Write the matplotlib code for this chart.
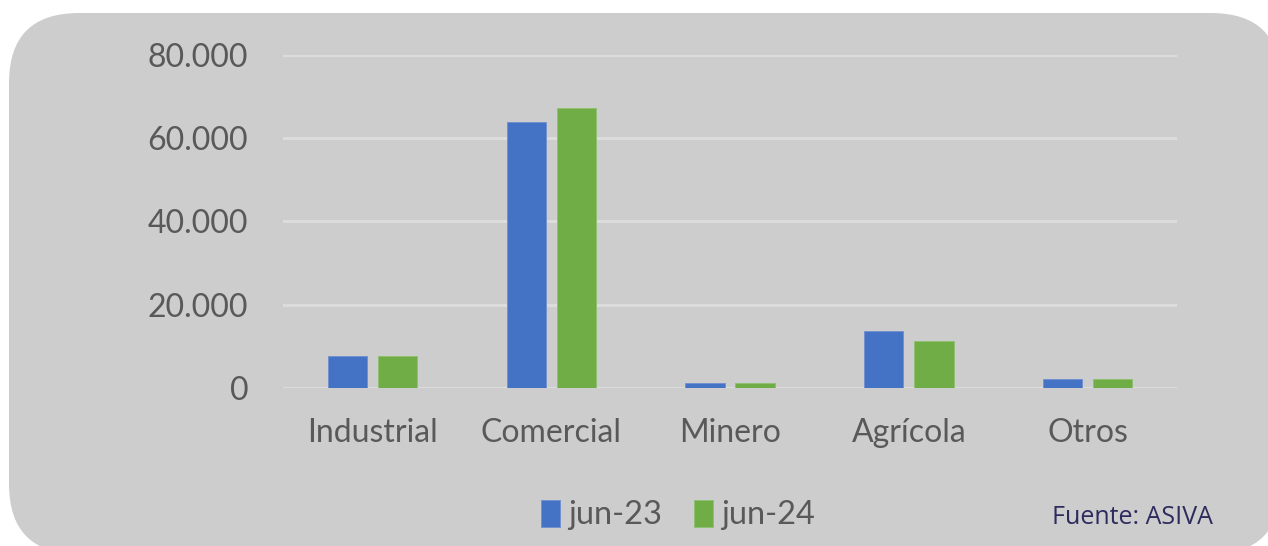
import matplotlib
matplotlib.use("Agg")
import matplotlib.pyplot as plt
from matplotlib.patches import FancyBboxPatch
from matplotlib.ticker import FuncFormatter
import numpy as np

categories = ["Industrial", "Comercial", "Minero", "Agrícola", "Otros"]
jun23 = [7700, 63900, 1200, 13700, 2100]
jun24 = [7600, 67200, 1100, 11300, 2000]
series_names = ["jun-23", "jun-24"]
yticks = [0, 20000, 40000, 60000, 80000]

W, H, DPI = 1268, 546, 100
fig = plt.figure(figsize=(W / DPI, H / DPI), dpi=DPI)
fig.patch.set_facecolor("white")

# rounded gray panel (in inches)
panel = FancyBboxPatch((0.09, -0.08), 12.72, 5.41,
                       boxstyle="round,pad=0,rounding_size=0.70",
                       transform=fig.dpi_scale_trans, facecolor="#CDCDCD",
                       edgecolor="none", zorder=-10)
fig.patches.append(panel)

ax = fig.add_axes([283 / W, 1 - 387.7 / H, 894 / W, (387.7 - 55) / H])
ax.set_facecolor("none")
ax.set_zorder(1)

x = np.arange(len(categories))
bw = 0.22
off = 0.14
blue, green = "#4472C4", "#70AD47"
b1 = ax.bar(x - off, jun23, bw, color=blue, edgecolor="#6F8FD0", linewidth=0.6,
            label=series_names[0], zorder=3)
b2 = ax.bar(x + off, jun24, bw, color=green, edgecolor="#8DC06C", linewidth=0.6,
            label=series_names[1], zorder=3)

ax.set_xlim(-0.5, len(categories) - 0.5)
ax.set_ylim(0, 80000)
ax.set_yticks(yticks)
ax.yaxis.set_major_formatter(FuncFormatter(lambda v, p: "0" if v == 0 else f"{int(v):,}".replace(",", ".")))
ax.grid(axis="y", color="#DCDCDC", linewidth=2.2, zorder=0)
ax.set_axisbelow(True)
for s in ax.spines.values():
    s.set_visible(False)
ax.tick_params(axis="both", length=0, labelsize=23, colors="#595959")
ax.tick_params(axis="y", pad=25)
ax.tick_params(axis="x", pad=22)
ax.set_xticks(x)
ax.set_xticklabels(categories)
for lbl in ax.get_xticklabels() + ax.get_yticklabels():
    lbl.set_fontfamily("Lato")

leg = fig.legend(handles=[b1, b2], labels=series_names, loc="center",
                 bbox_to_anchor=(678 / W, 1 - 515 / H), ncol=2, frameon=False,
                 prop={"family": "Lato", "size": 23.5}, handlelength=0.6,
                 handleheight=0.9, handletextpad=0.25, columnspacing=0.95)
for t in leg.get_texts():
    t.set_color("#595959")

fig.text(1213 / W, 1 - 517 / H, "Fuente: ASIVA", ha="right", va="center",
         fontsize=18, color="#2D2B5E", fontfamily="Open Sans")

fig.savefig("out.png", dpi=DPI)
